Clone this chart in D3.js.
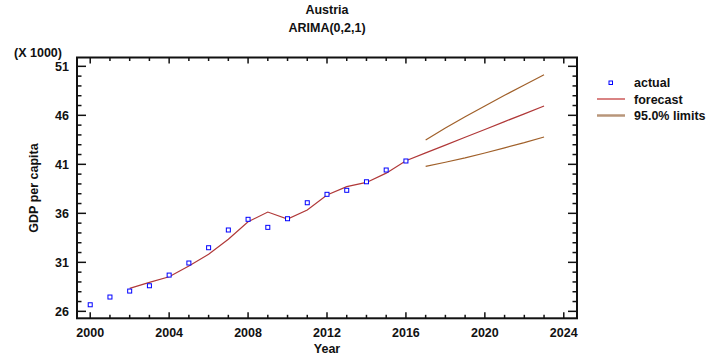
<!DOCTYPE html>
<html><head><meta charset="utf-8">
<script src="https://cdn.jsdelivr.net/npm/d3@7"></script>
<style>body{margin:0;background:#fff}svg text{font-family:Arial,"Liberation Sans",sans-serif;font-weight:700;fill:#111}</style>
</head><body><svg id="c" width="720" height="357"></svg>
<script>
const actualYears = [2000,2001,2002,2003,2004,2005,2006,2007,2008,2009,2010,2011,2012,2013,2014,2015,2016];
const actualValues = [26.67,27.46,28.07,28.61,29.70,30.93,32.49,34.30,35.39,34.57,35.45,37.08,37.94,38.35,39.22,40.42,41.34];
const fitYears = [2002,2003,2004,2005,2006,2007,2008,2009,2010,2011,2012,2013,2014,2015,2016,2017,2018,2019,2020,2021,2022,2023];
const fitValues = [28.35,28.96,29.53,30.62,31.82,33.35,35.14,36.13,35.42,36.34,37.87,38.72,39.15,40.10,41.37,42.17,42.96,43.76,44.56,45.36,46.15,46.95];
const limitYears = [2017,2018,2019,2020,2021,2022,2023];
const upperValues = [43.48,44.71,45.86,46.96,48.04,49.09,50.14];
const lowerValues = [40.80,41.21,41.66,42.16,42.68,43.21,43.79];
const xTicks = [2000,2004,2008,2012,2016,2020,2024];
const yTicks = [26,31,36,41,46,51];
const legendLabels = ["actual","forecast","95.0% limits"];

const svg = d3.select("#c");
const L=77, R=577, T=57.5, B=318.3;
const x = d3.scaleLinear().domain([1999.33,2024.67]).range([L,R]);
const y = d3.scaleLinear().domain([25.29,51.9]).range([B,T]);

svg.append("rect").attr("x",L).attr("y",T).attr("width",R-L).attr("height",B-T)
  .attr("fill","none").attr("stroke","#111").attr("stroke-width",2);

const yrs = d3.range(2000,2025);
const g = svg.append("g").attr("stroke","#111").attr("stroke-width",1.5);
yrs.forEach(v=>{
  const len = v%4===0?6:3.5;
  g.append("line").attr("x1",x(v)).attr("x2",x(v)).attr("y1",B).attr("y2",B-len);
  g.append("line").attr("x1",x(v)).attr("x2",x(v)).attr("y1",T).attr("y2",T+len);
});
d3.range(26,52).forEach(v=>{
  const len = (v-26)%5===0?9:4.5;
  g.append("line").attr("y1",y(v)).attr("y2",y(v)).attr("x1",L).attr("x2",L+len);
  g.append("line").attr("y1",y(v)).attr("y2",y(v)).attr("x1",R).attr("x2",R-len);
});

function txt(sel){ return sel.attr("font-size",12.5).attr("font-weight","bold"); }

txt(svg.append("g").selectAll("text").data(xTicks).join("text")
  .attr("x",d=>x(d)).attr("y",337).attr("text-anchor","middle")).text(d=>d);
txt(svg.append("g").selectAll("text").data(yTicks).join("text")
  .attr("x",69).attr("y",d=>y(d)+4.5).attr("text-anchor","end")).text(d=>d);

txt(svg.append("text").attr("x",327).attr("y",14).attr("text-anchor","middle")).text("Austria");
txt(svg.append("text").attr("x",327).attr("y",32).attr("text-anchor","middle")).text("ARIMA(0,2,1)");
txt(svg.append("text").attr("x",327).attr("y",353).attr("text-anchor","middle")).text("Year");
txt(svg.append("text").attr("x",14).attr("y",57)).text("(X 1000)");
txt(svg.append("text").attr("transform","translate(38,188) rotate(-90)").attr("text-anchor","middle")).text("GDP per capita");

const line = d3.line().x(d=>x(d[0])).y(d=>y(d[1]));
svg.append("path").datum(d3.zip(fitYears,fitValues)).attr("d",line)
  .attr("fill","none").attr("stroke","#b03838").attr("stroke-width",1.2);
svg.append("path").datum(d3.zip(limitYears,upperValues)).attr("d",line)
  .attr("fill","none").attr("stroke","#a0602a").attr("stroke-width",1.2);
svg.append("path").datum(d3.zip(limitYears,lowerValues)).attr("d",line)
  .attr("fill","none").attr("stroke","#a0602a").attr("stroke-width",1.2);

svg.append("g").selectAll("rect").data(d3.zip(actualYears,actualValues)).join("rect")
  .attr("x",d=>x(d[0])-2).attr("y",d=>y(d[1])-2).attr("width",4).attr("height",4)
  .attr("fill","#fff").attr("stroke","#0000ff").attr("stroke-width",1);

const lg = svg.append("g");
lg.append("rect").attr("x",609).attr("y",81).attr("width",3.5).attr("height",3.5)
  .attr("fill","#fff").attr("stroke","#0000ff").attr("stroke-width",1);
lg.append("line").attr("x1",597).attr("x2",625).attr("y1",99).attr("y2",99).attr("stroke","#c03030").attr("stroke-width",1.2);
lg.append("line").attr("x1",597).attr("x2",625).attr("y1",115.5).attr("y2",115.5).attr("stroke","#b8967a").attr("stroke-width",2.5);
txt(lg.selectAll("text").data(legendLabels).join("text")
  .attr("x",634).attr("y",(d,i)=>87+i*16.5)).text(d=>d);
</script></body></html>
